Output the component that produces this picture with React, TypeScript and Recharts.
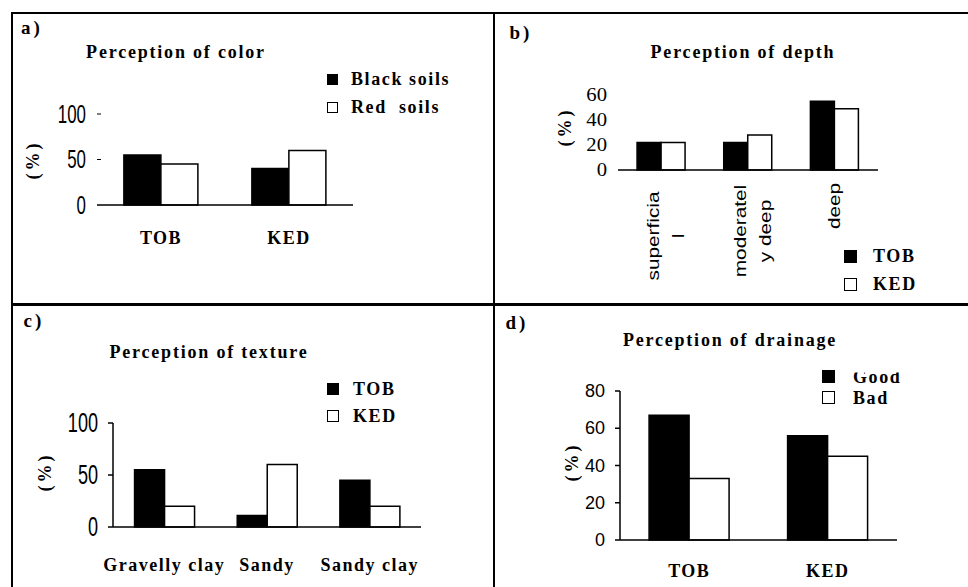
import { BarChart, Bar, XAxis, YAxis, Legend } from 'recharts';

// a) perception of colour
const colorSites = ['TOB', 'KED'];
const blackSoils = [55, 40];
const redSoils = [45, 60];
const colorTicks = [0, 50, 100];

// b) perception of depth (labels wrapped the way the source shows them)
const depthClasses = ['superficial', 'moderately deep', 'deep'];
const depthLabels = [['superficia', 'l'], ['moderatel', 'y deep'], ['deep']];
const depthTob = [22, 22, 55];
const depthKed = [22, 28, 49];
const depthTicks = [0, 20, 40, 60];

// c) perception of texture
const textureClasses = ['Gravelly clay', 'Sandy', 'Sandy clay'];
const textureTob = [55, 11, 45];
const textureKed = [20, 60, 20];
const textureTicks = [0, 50, 100];

// d) perception of drainage
const drainageSites = ['TOB', 'KED'];
const drainageGood = [67, 56];
const drainageBad = [33, 45];
const drainageTicks = [0, 20, 40, 60, 80];

const colorData = colorSites.map((site, i) => ({ site, black: blackSoils[i], red: redSoils[i] }));
const depthData = depthClasses.map((cls, i) => ({ cls, tob: depthTob[i], ked: depthKed[i] }));
const textureData = textureClasses.map((cls, i) => ({ cls, tob: textureTob[i], ked: textureKed[i] }));
const drainageData = drainageSites.map((site, i) => ({ site, good: drainageGood[i], bad: drainageBad[i] }));

const serif = '"Liberation Serif", "Times New Roman", serif';
const sans = '"Liberation Sans", Arial, sans-serif';

const Txt = ({ x, y, size = 18, ls = 1.8, rotate = 0, children }: any) => (
  <div
    style={{
      position: 'absolute',
      left: x,
      top: y,
      transform: `translate(-50%, -50%) rotate(${rotate}deg)`,
      fontFamily: serif,
      fontWeight: 'bold',
      fontSize: size,
      letterSpacing: ls,
      whiteSpace: 'pre',
      lineHeight: 1,
      color: '#000',
    }}
  >
    {children}
  </div>
);

const NumTick = ({ x, y, payload, size, family, sx = 1, mark = false }: any) => (
  <g>
    <text
      transform={`translate(${x},${y}) scale(${sx},1)`}
      textAnchor="end"
      dominantBaseline="central"
      fontSize={size}
      fontFamily={family}
      fill="#000"
    >
      {payload.value}
    </text>
    {mark && payload.value !== 0 ? <line x1={x + 11} x2={x + 15} y1={y} y2={y} stroke="#000" strokeWidth={1} /> : null}
  </g>
);

const NameTick = ({ x, y, payload, dy }: any) => (
  <text
    x={x}
    y={y + dy}
    textAnchor="middle"
    dominantBaseline="central"
    fontFamily={serif}
    fontWeight="bold"
    fontSize={18}
    letterSpacing={1.5}
    fill="#000"
  >
    {payload.value}
  </text>
);

const DepthTick = ({ x, y, payload }: any) => {
  const lines = depthLabels[payload.index] || [payload.value];
  const down = 16 + Math.max(...lines.map((l) => l.length)) * 5;
  return (
    <g transform={`translate(${x},${y}) rotate(-90)`}>
      {lines.map((line, i) => {
        const across = lines.length === 1 ? 0 : (i - 0.5) * 25 + 4.5;
        return (
          <text
            key={i}
            transform={`translate(${-down},${across}) scale(1.3,1)`}
            textAnchor="middle"
            dominantBaseline="central"
            fontFamily={sans}
            fontSize={16}
            fill="#000"
          >
            {line}
          </text>
        );
      })}
    </g>
  );
};

// legend rows follow the bar order (black series first), not the alphabetical default
const LegendBox = ({ payload, order, row, box, gap, clipFirst = 0 }: any) => {
  const items = [...(payload || [])].sort((a: any, b: any) => order.indexOf(a.dataKey) - order.indexOf(b.dataKey));
  return (
    <div style={{ fontFamily: serif, fontWeight: 'bold', fontSize: 18, letterSpacing: 1.6, lineHeight: 1, color: '#000' }}>
      {items.map((e: any, i: number) => (
        <div key={i} style={{ display: 'flex', alignItems: 'center', height: row, whiteSpace: 'pre' }}>
          <span
            style={{
              display: 'inline-block',
              width: box,
              height: box,
              boxSizing: 'border-box',
              border: '1.5px solid #000',
              background: i === 0 ? '#000' : '#fff',
              marginRight: gap - box,
            }}
          />
          <span
            style={{
              display: 'inline-block',
              clipPath: i === 0 && clipFirst ? `inset(${clipFirst}px 0 0 0)` : undefined,
            }}
          >
            {e.value}
          </span>
        </div>
      ))}
    </div>
  );
};

const axisStroke = { stroke: '#000', strokeWidth: 1.5 };

export default function App() {
  return (
    <div style={{ position: 'absolute', left: 0, top: 0, width: 968, height: 587, background: '#fff', overflow: 'hidden' }}>
      {/* a) colour */}
      <div style={{ position: 'absolute', left: 12, top: 13 }}>
        <BarChart width={482} height={290} data={colorData} margin={{ top: 101, right: 141, bottom: 58, left: 25 }} barGap={0} barCategoryGap="21%">
          <XAxis dataKey="site" height={40} axisLine={axisStroke} tickLine={false} tickSize={0} tickMargin={0} tick={(p: any) => <NameTick {...p} dy={33} />} />
          <YAxis width={60} domain={[0, 100]} ticks={colorTicks} axisLine={false} tickLine={false} tickSize={0} tickMargin={11} tick={(p: any) => <NumTick {...p} size={26} family={sans} sx={0.65} mark />} />
          <Legend layout="horizontal" verticalAlign="middle" align="center" wrapperStyle={{ left: 315, top: 52, width: 160 }} content={(p: any) => <LegendBox {...p} order={['black', 'red']} row={28} box={11} gap={24} />} />
          <Bar dataKey="black" name="Black soils" fill="#000" stroke="#000" strokeWidth={1.5} isAnimationActive={false} />
          <Bar dataKey="red" name="Red  soils" fill="#fff" stroke="#000" strokeWidth={1.5} isAnimationActive={false} />
        </BarChart>
      </div>

      {/* b) depth */}
      <div style={{ position: 'absolute', left: 495, top: 14 }}>
        <BarChart width={473} height={289} data={depthData} margin={{ top: 81, right: 90, bottom: 13, left: 63 }} barGap={0} barCategoryGap="22%">
          <XAxis dataKey="cls" height={120} axisLine={axisStroke} tickLine={false} tickSize={0} tickMargin={0} interval={0} tick={(p: any) => <DepthTick {...p} />} />
          <YAxis width={60} domain={[0, 60]} ticks={depthTicks} axisLine={false} tickLine={false} tickSize={0} tickMargin={11} tick={(p: any) => <NumTick {...p} size={18} family={serif} sx={1.15} />} />
          <Legend layout="horizontal" verticalAlign="middle" align="center" wrapperStyle={{ left: 349, top: 228, width: 110 }} content={(p: any) => <LegendBox {...p} order={['tob', 'ked']} row={28} box={13} gap={29} />} />
          <Bar dataKey="tob" name="TOB" fill="#000" stroke="#000" strokeWidth={1.5} isAnimationActive={false} />
          <Bar dataKey="ked" name="KED" fill="#fff" stroke="#000" strokeWidth={1.5} isAnimationActive={false} />
        </BarChart>
      </div>

      {/* c) texture */}
      <div style={{ position: 'absolute', left: 12, top: 305 }}>
        <BarChart width={482} height={282} data={textureData} margin={{ top: 118, right: 73, bottom: 10, left: 41 }} barGap={0} barCategoryGap="21%">
          <XAxis dataKey="cls" height={50} axisLine={axisStroke} tickLine={false} tickSize={0} tickMargin={0} interval={0} tick={(p: any) => <NameTick {...p} dy={38} />} />
          <YAxis width={60} domain={[0, 100]} ticks={textureTicks} axisLine={axisStroke} tickLine={axisStroke} tickSize={5} tickMargin={10} tick={(p: any) => <NumTick {...p} size={27} family={sans} sx={0.67} />} />
          <Legend layout="horizontal" verticalAlign="middle" align="center" wrapperStyle={{ left: 315, top: 70, width: 110 }} content={(p: any) => <LegendBox {...p} order={['tob', 'ked']} row={27} box={12} gap={26} />} />
          <Bar dataKey="tob" name="TOB" fill="#000" stroke="#000" strokeWidth={1.5} isAnimationActive={false} />
          <Bar dataKey="ked" name="KED" fill="#fff" stroke="#000" strokeWidth={1.5} isAnimationActive={false} />
        </BarChart>
      </div>

      {/* d) drainage */}
      <div style={{ position: 'absolute', left: 495, top: 306 }}>
        <BarChart width={473} height={281} data={drainageData} margin={{ top: 85, right: 71, bottom: 7, left: 65 }} barGap={0} barCategoryGap="21%">
          <XAxis dataKey="site" height={40} axisLine={axisStroke} tickLine={false} tickSize={0} tickMargin={0} tick={(p: any) => <NameTick {...p} dy={31} />} />
          <YAxis width={60} domain={[0, 80]} ticks={drainageTicks} axisLine={axisStroke} tickLine={axisStroke} tickSize={5} tickMargin={10} tick={(p: any) => <NumTick {...p} size={18} family={sans} />} />
          <Legend layout="horizontal" verticalAlign="middle" align="center" wrapperStyle={{ left: 327, top: 60, width: 110 }} content={(p: any) => <LegendBox {...p} order={['good', 'bad']} row={21} box={13} gap={31} clipFirst={5} />} />
          <Bar dataKey="good" name="Good" fill="#000" stroke="#000" strokeWidth={1.5} isAnimationActive={false} />
          <Bar dataKey="bad" name="Bad" fill="#fff" stroke="#000" strokeWidth={1.5} isAnimationActive={false} />
        </BarChart>
      </div>

      {/* panel letters, titles, axis titles */}
      <Txt x={32} y={27} size={19} ls={3}>a)</Txt>
      <Txt x={521} y={32} size={19} ls={3}>b)</Txt>
      <Txt x={34} y={320} size={19} ls={3}>c)</Txt>
      <Txt x={517} y={322} size={19} ls={3}>d)</Txt>

      <Txt x={176} y={52}>Perception of color</Txt>
      <Txt x={743} y={52}>Perception of depth</Txt>
      <Txt x={209} y={352}>Perception of texture</Txt>
      <Txt x={730} y={340}>Perception of drainage</Txt>

      <Txt x={33} y={160} size={18} ls={3} rotate={-90}>(%)</Txt>
      <Txt x={565} y={127} size={18} ls={3} rotate={-90}>(%)</Txt>
      <Txt x={45} y={472} size={18} ls={3} rotate={-90}>(%)</Txt>
      <Txt x={572} y={462} size={18} ls={3} rotate={-90}>(%)</Txt>

      {/* panel frame */}
      <div style={{ position: 'absolute', left: 11, top: 12, width: 957, height: 2, background: '#000' }} />
      <div style={{ position: 'absolute', left: 11, top: 303, width: 957, height: 3, background: '#000' }} />
      <div style={{ position: 'absolute', left: 11, top: 12, width: 2, height: 575, background: '#000' }} />
      <div style={{ position: 'absolute', left: 493, top: 12, width: 2, height: 575, background: '#000' }} />
    </div>
  );
}
